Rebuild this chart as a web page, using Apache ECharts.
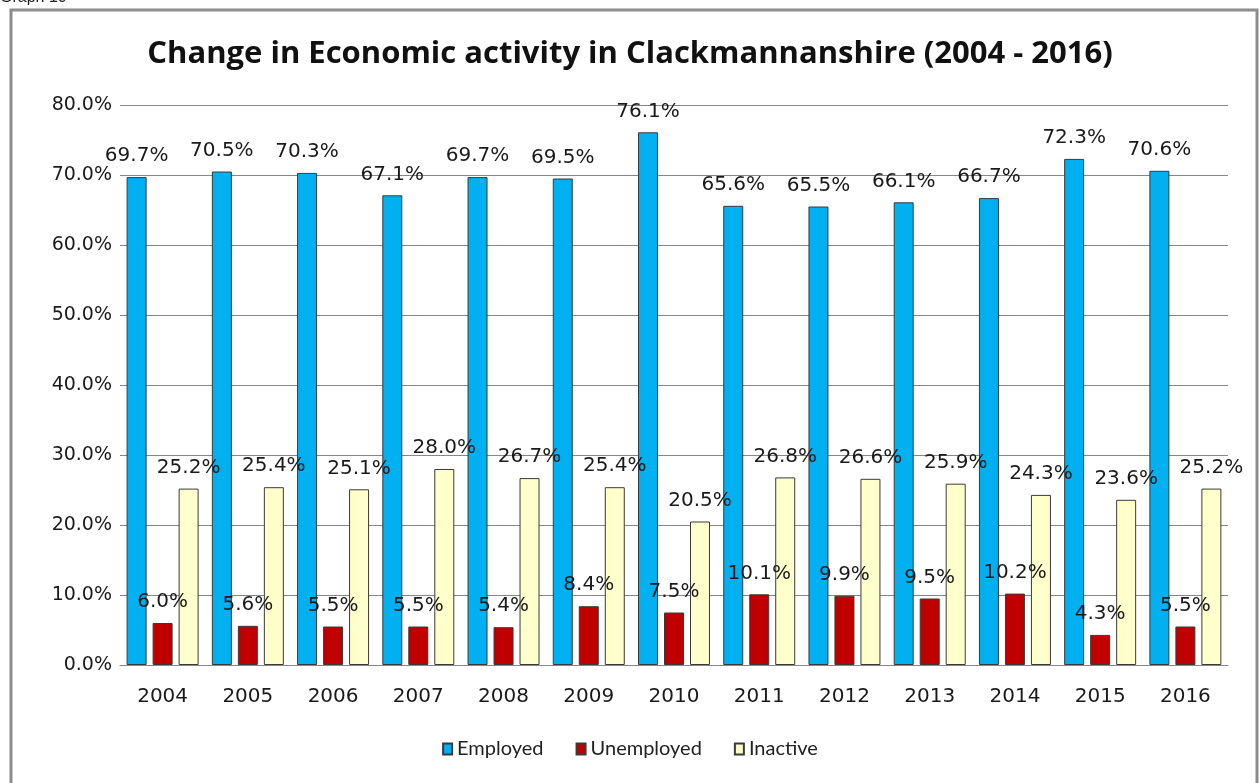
<!DOCTYPE html>
<html>
<head>
<meta charset="utf-8">
<script src="https://cdn.jsdelivr.net/npm/echarts@6/dist/echarts.min.js"></script>
<style>
  html, body { margin: 0; padding: 0; background: #fff; }
  #chart { width: 1260px; height: 783px; }
</style>
</head>
<body>
<div id="chart"></div>
<script>
// values (percent)
var years = ['2004', '2005', '2006', '2007', '2008', '2009', '2010', '2011', '2012', '2013', '2014', '2015', '2016'];
var employed = [69.7, 70.5, 70.3, 67.1, 69.7, 69.5, 76.1, 65.6, 65.5, 66.1, 66.7, 72.3, 70.6];
var unemployed = [6.0, 5.6, 5.5, 5.5, 5.4, 8.4, 7.5, 10.1, 9.9, 9.5, 10.2, 4.3, 5.5];
var inactive = [25.2, 25.4, 25.1, 28.0, 26.7, 25.4, 20.5, 26.8, 26.6, 25.9, 24.3, 23.6, 25.2];

var pct = function (v) { return Number(v).toFixed(1) + '%'; };

var chart = echarts.init(document.getElementById('chart'));

function makeSeries(name, data, color) {
  return {
    name: name,
    type: 'bar',
    data: data,
    barWidth: 20,
    barGap: '30%',
    itemStyle: { color: color, borderColor: '#3a3a3a', borderWidth: 1 },
    label: {
      show: true,
      position: 'top',
      distance: 11,
      formatter: function (p) { return pct(p.value); },
      fontFamily: 'DejaVu Sans',
      fontSize: 20,
      color: '#1a1a1a'
    }
  };
}

chart.setOption({
  animation: false,
  backgroundColor: '#fff',
  graphic: [
    {
      type: 'text',
      left: 0, top: -10,
      style: { text: 'Graph 10', font: '16px "Liberation Sans"', fill: '#222' }
    },
    {
      type: 'rect',
      shape: { x: 11, y: 10, width: 1246, height: 790 },
      style: { fill: 'none', stroke: '#8c8c8c', lineWidth: 3 },
      z: -1
    }
  ],
  title: {
    text: 'Change in Economic activity in Clackmannanshire (2004 - 2016)',
    left: 'center',
    top: 34,
    textStyle: { fontFamily: 'Open Sans', fontWeight: 'bold', fontSize: 31, color: '#111' }
  },
  legend: {
    bottom: 19,
    left: 'center',
    itemWidth: 9,
    itemHeight: 11,
    itemGap: 32,
    icon: 'rect',
    textStyle: { fontFamily: 'Lato', fontSize: 20, color: '#222' },
    data: ['Employed', 'Unemployed', 'Inactive']
  },
  grid: { left: 120, right: 32, top: 105, bottom: 118 },
  xAxis: {
    type: 'category',
    data: years,
    axisLine: { lineStyle: { color: '#868686', width: 1 } },
    axisTick: { show: false },
    axisLabel: { fontFamily: 'DejaVu Sans', fontSize: 20, color: '#1a1a1a', margin: 22 }
  },
  yAxis: {
    type: 'value',
    min: 0,
    max: 80,
    interval: 10,
    axisLine: { show: false },
    axisTick: { show: false },
    splitLine: { lineStyle: { color: '#868686', width: 1 } },
    axisLabel: { formatter: pct, fontFamily: 'DejaVu Sans', fontSize: 19, color: '#1a1a1a', margin: 8 }
  },
  series: [
    makeSeries('Employed', employed, '#00b0f0'),
    makeSeries('Unemployed', unemployed, '#c00000'),
    makeSeries('Inactive', inactive, '#ffffcc')
  ]
});
</script>
</body>
</html>
